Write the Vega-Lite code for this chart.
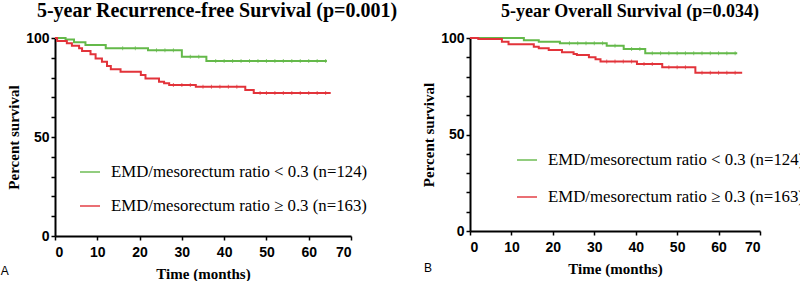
{
  "$schema": "https://vega.github.io/schema/vega-lite/v6.json",
  "usermeta": {"embedOptions": {"actions": false}},
  "padding": {"left": 0, "top": 1, "right": 0, "bottom": 0},
  "background": "white",
  "spacing": 23,
  "datasets": {
    "rfs": [
      {"g": "lt", "t": 0, "s": 100}, {"g": "lt", "t": 2.5, "s": 99.2}, {"g": "lt", "t": 4.5, "s": 97.8}, {"g": "lt", "t": 7.2, "s": 96.5},
      {"g": "lt", "t": 12, "s": 94.8}, {"g": "lt", "t": 22, "s": 93.8}, {"g": "lt", "t": 30, "s": 90.5}, {"g": "lt", "t": 35.8, "s": 88.4},
      {"g": "lt", "t": 64.3, "s": 88.4},
      {"g": "ge", "t": 0, "s": 100}, {"g": "ge", "t": 0.5, "s": 98.5}, {"g": "ge", "t": 2.8, "s": 97.3}, {"g": "ge", "t": 4, "s": 96.1},
      {"g": "ge", "t": 5.7, "s": 94.8}, {"g": "ge", "t": 6.4, "s": 93.4}, {"g": "ge", "t": 8.4, "s": 91.8}, {"g": "ge", "t": 9.6, "s": 89.7},
      {"g": "ge", "t": 11.1, "s": 88}, {"g": "ge", "t": 12.3, "s": 85.9}, {"g": "ge", "t": 13.2, "s": 84.2}, {"g": "ge", "t": 15.5, "s": 83},
      {"g": "ge", "t": 20.3, "s": 81.3}, {"g": "ge", "t": 21.4, "s": 79.6}, {"g": "ge", "t": 24.6, "s": 77.9}, {"g": "ge", "t": 25.8, "s": 77.1},
      {"g": "ge", "t": 27, "s": 76.3}, {"g": "ge", "t": 33.3, "s": 75.4}, {"g": "ge", "t": 45, "s": 73.7}, {"g": "ge", "t": 47, "s": 72.2},
      {"g": "ge", "t": 65.2, "s": 72.2}
    ],
    "rfs_cens": [
      {"g": "lt", "t": 16, "s": 94.8}, {"g": "lt", "t": 19, "s": 94.8}, {"g": "lt", "t": 24, "s": 93.8}, {"g": "lt", "t": 26, "s": 93.8},
      {"g": "lt", "t": 28, "s": 93.8}, {"g": "lt", "t": 32, "s": 90.5}, {"g": "lt", "t": 34, "s": 90.5}, {"g": "lt", "t": 38, "s": 88.4},
      {"g": "lt", "t": 40, "s": 88.4}, {"g": "lt", "t": 42, "s": 88.4}, {"g": "lt", "t": 44, "s": 88.4}, {"g": "lt", "t": 46, "s": 88.4},
      {"g": "lt", "t": 48, "s": 88.4}, {"g": "lt", "t": 50, "s": 88.4}, {"g": "lt", "t": 52, "s": 88.4}, {"g": "lt", "t": 54, "s": 88.4},
      {"g": "lt", "t": 56, "s": 88.4}, {"g": "lt", "t": 58, "s": 88.4}, {"g": "lt", "t": 60, "s": 88.4}, {"g": "lt", "t": 62, "s": 88.4},
      {"g": "lt", "t": 64, "s": 88.4},
      {"g": "ge", "t": 28, "s": 76.3}, {"g": "ge", "t": 30, "s": 76.3}, {"g": "ge", "t": 32, "s": 76.3}, {"g": "ge", "t": 35, "s": 75.4},
      {"g": "ge", "t": 37, "s": 75.4}, {"g": "ge", "t": 39, "s": 75.4}, {"g": "ge", "t": 41, "s": 75.4}, {"g": "ge", "t": 43, "s": 75.4},
      {"g": "ge", "t": 48.5, "s": 72.2}, {"g": "ge", "t": 50, "s": 72.2}, {"g": "ge", "t": 52, "s": 72.2}, {"g": "ge", "t": 54, "s": 72.2},
      {"g": "ge", "t": 56, "s": 72.2}, {"g": "ge", "t": 58, "s": 72.2}, {"g": "ge", "t": 60, "s": 72.2}, {"g": "ge", "t": 62, "s": 72.2},
      {"g": "ge", "t": 64, "s": 72.2}
    ],
    "os": [
      {"g": "lt", "t": 0, "s": 100}, {"g": "lt", "t": 13, "s": 98.8}, {"g": "lt", "t": 16.6, "s": 98.1}, {"g": "lt", "t": 21.7, "s": 97.3},
      {"g": "lt", "t": 33, "s": 96}, {"g": "lt", "t": 37.1, "s": 94.3}, {"g": "lt", "t": 42.3, "s": 92.1}, {"g": "lt", "t": 64.5, "s": 92.1},
      {"g": "ge", "t": 0, "s": 100}, {"g": "ge", "t": 2, "s": 99.5}, {"g": "ge", "t": 7.7, "s": 98.1}, {"g": "ge", "t": 9.3, "s": 96.7},
      {"g": "ge", "t": 15.4, "s": 95.5}, {"g": "ge", "t": 16.6, "s": 94.7}, {"g": "ge", "t": 19, "s": 93.8}, {"g": "ge", "t": 22.2, "s": 92.6},
      {"g": "ge", "t": 25, "s": 91.7}, {"g": "ge", "t": 25.8, "s": 91.2}, {"g": "ge", "t": 28.7, "s": 90}, {"g": "ge", "t": 30.3, "s": 89},
      {"g": "ge", "t": 31.5, "s": 87.8}, {"g": "ge", "t": 40.3, "s": 86.5}, {"g": "ge", "t": 46.4, "s": 84.8}, {"g": "ge", "t": 54.4, "s": 82},
      {"g": "ge", "t": 65.7, "s": 82}
    ],
    "os_cens": [
      {"g": "lt", "t": 24, "s": 97.3}, {"g": "lt", "t": 26, "s": 97.3}, {"g": "lt", "t": 28, "s": 97.3}, {"g": "lt", "t": 30, "s": 97.3},
      {"g": "lt", "t": 32, "s": 97.3}, {"g": "lt", "t": 35, "s": 96}, {"g": "lt", "t": 39, "s": 94.3}, {"g": "lt", "t": 41, "s": 94.3},
      {"g": "lt", "t": 44, "s": 92.1}, {"g": "lt", "t": 46, "s": 92.1}, {"g": "lt", "t": 48, "s": 92.1}, {"g": "lt", "t": 50, "s": 92.1},
      {"g": "lt", "t": 52, "s": 92.1}, {"g": "lt", "t": 54, "s": 92.1}, {"g": "lt", "t": 56, "s": 92.1}, {"g": "lt", "t": 58, "s": 92.1},
      {"g": "lt", "t": 60, "s": 92.1}, {"g": "lt", "t": 62, "s": 92.1}, {"g": "lt", "t": 64, "s": 92.1},
      {"g": "ge", "t": 33, "s": 87.8}, {"g": "ge", "t": 35, "s": 87.8}, {"g": "ge", "t": 37, "s": 87.8}, {"g": "ge", "t": 39, "s": 87.8},
      {"g": "ge", "t": 42, "s": 86.5}, {"g": "ge", "t": 44, "s": 86.5}, {"g": "ge", "t": 48, "s": 84.8}, {"g": "ge", "t": 50, "s": 84.8},
      {"g": "ge", "t": 52, "s": 84.8}, {"g": "ge", "t": 56, "s": 82}, {"g": "ge", "t": 58, "s": 82}, {"g": "ge", "t": 60, "s": 82},
      {"g": "ge", "t": 62, "s": 82}, {"g": "ge", "t": 64, "s": 82}
    ]
  },
  "resolve": {"legend": {"color": "independent"}, "scale": {"x": "independent", "y": "independent"}},
  "hconcat": [
    {
      "width": 296,
      "height": 198,
      "title": {"text": "5-year Recurrence-free Survival (p=0.001)", "dx": 14, "fontSize": 20},
      "layer": [
        {
          "data": {"name": "rfs"},
          "mark": {"type": "line", "interpolate": "step-after", "strokeWidth": 2},
          "encoding": {
            "x": {"field": "t", "type": "quantitative", "scale": {"domain": [0, 70], "nice": false},
              "axis": {"title": "Time (months)", "values": [0, 10, 20, 30, 40, 50, 60, 70], "labelOverlap": false, "labelPadding": 5, "titlePadding": 7}},
            "y": {"field": "s", "type": "quantitative", "scale": {"domain": [0, 100], "nice": false},
              "axis": {"title": "Percent survival", "values": [0, 10, 20, 30, 40, 50, 60, 70, 80, 90, 100], "labelOverlap": false,
                "labelExpr": "datum.value == 0 || datum.value == 50 || datum.value == 100 ? datum.label : ''"}},
            "color": {"field": "g", "type": "nominal",
              "scale": {"domain": ["lt", "ge"], "range": ["#64b94a", "#e2333a"]},
              "legend": {"orient": "none", "legendX": 24, "legendY": 123, "rowPadding": 14,
                "labelExpr": "datum.value == 'lt' ? 'EMD/mesorectum ratio < 0.3 (n=124)' : 'EMD/mesorectum ratio ≥ 0.3 (n=163)'"}}
          }
        },
        {
          "data": {"name": "rfs_cens"},
          "mark": {"type": "tick", "orient": "vertical", "size": 4, "thickness": 1},
          "encoding": {
            "x": {"field": "t", "type": "quantitative", "scale": {"domain": [0, 70], "nice": false},
              "axis": {"title": "Time (months)", "values": [0, 10, 20, 30, 40, 50, 60, 70], "labelOverlap": false, "labelPadding": 5, "titlePadding": 7}},
            "y": {"field": "s", "type": "quantitative", "scale": {"domain": [0, 100], "nice": false},
              "axis": {"title": "Percent survival", "values": [0, 10, 20, 30, 40, 50, 60, 70, 80, 90, 100], "labelOverlap": false,
                "labelExpr": "datum.value == 0 || datum.value == 50 || datum.value == 100 ? datum.label : ''"}},
            "color": {"field": "g", "type": "nominal"}
          }
        },
        {
          "data": {"values": [{"lab": "A"}]},
          "mark": {"type": "text", "font": "Liberation Sans", "fontSize": 12, "align": "left", "baseline": "middle", "color": "black"},
          "encoding": {
            "x": {"datum": -12.8, "type": "quantitative", "scale": {"domain": [0, 70], "nice": false},
              "axis": {"title": "Time (months)", "values": [0, 10, 20, 30, 40, 50, 60, 70], "labelOverlap": false, "labelPadding": 5, "titlePadding": 7}},
            "y": {"datum": -17.7, "type": "quantitative", "scale": {"domain": [0, 100], "nice": false},
              "axis": {"title": "Percent survival", "values": [0, 10, 20, 30, 40, 50, 60, 70, 80, 90, 100], "labelOverlap": false,
                "labelExpr": "datum.value == 0 || datum.value == 50 || datum.value == 100 ? datum.label : ''"}},
            "text": {"field": "lab"}
          }
        }
      ]
    },
    {
      "width": 290,
      "height": 193,
      "title": {"text": "5-year Overall Survival (p=0.034)", "dx": 15, "fontSize": 18},
      "layer": [
        {
          "data": {"name": "os"},
          "mark": {"type": "line", "interpolate": "step-after", "strokeWidth": 2},
          "encoding": {
            "x": {"field": "t", "type": "quantitative", "scale": {"domain": [0, 70], "nice": false},
              "axis": {"title": "Time (months)", "values": [0, 10, 20, 30, 40, 50, 60, 70], "labelOverlap": false, "labelPadding": 5, "titlePadding": 7}},
            "y": {"field": "s", "type": "quantitative", "scale": {"domain": [0, 100], "nice": false},
              "axis": {"title": "Percent survival", "values": [0, 10, 20, 30, 40, 50, 60, 70, 80, 90, 100], "labelOverlap": false,
                "labelExpr": "datum.value == 0 || datum.value == 50 || datum.value == 100 ? datum.label : ''"}},
            "color": {"field": "g", "type": "nominal",
              "scale": {"domain": ["lt", "ge"], "range": ["#64b94a", "#e2333a"]},
              "legend": {"orient": "none", "legendX": 46, "legendY": 111, "rowPadding": 17,
                "labelExpr": "datum.value == 'lt' ? 'EMD/mesorectum ratio < 0.3 (n=124)' : 'EMD/mesorectum ratio ≥ 0.3 (n=163)'"}}
          }
        },
        {
          "data": {"name": "os_cens"},
          "mark": {"type": "tick", "orient": "vertical", "size": 4, "thickness": 1},
          "encoding": {
            "x": {"field": "t", "type": "quantitative", "scale": {"domain": [0, 70], "nice": false},
              "axis": {"title": "Time (months)", "values": [0, 10, 20, 30, 40, 50, 60, 70], "labelOverlap": false, "labelPadding": 5, "titlePadding": 7}},
            "y": {"field": "s", "type": "quantitative", "scale": {"domain": [0, 100], "nice": false},
              "axis": {"title": "Percent survival", "values": [0, 10, 20, 30, 40, 50, 60, 70, 80, 90, 100], "labelOverlap": false,
                "labelExpr": "datum.value == 0 || datum.value == 50 || datum.value == 100 ? datum.label : ''"}},
            "color": {"field": "g", "type": "nominal"}
          }
        },
        {
          "data": {"values": [{"lab": "B"}]},
          "mark": {"type": "text", "font": "Liberation Sans", "fontSize": 12, "align": "left", "baseline": "middle", "color": "black"},
          "encoding": {
            "x": {"datum": -11.1, "type": "quantitative", "scale": {"domain": [0, 70], "nice": false},
              "axis": {"title": "Time (months)", "values": [0, 10, 20, 30, 40, 50, 60, 70], "labelOverlap": false, "labelPadding": 5, "titlePadding": 7}},
            "y": {"datum": -19.2, "type": "quantitative", "scale": {"domain": [0, 100], "nice": false},
              "axis": {"title": "Percent survival", "values": [0, 10, 20, 30, 40, 50, 60, 70, 80, 90, 100], "labelOverlap": false,
                "labelExpr": "datum.value == 0 || datum.value == 50 || datum.value == 100 ? datum.label : ''"}},
            "text": {"field": "lab"}
          }
        }
      ]
    }
  ],
  "config": {
    "view": {"stroke": null},
    "title": {"font": "Liberation Serif", "fontSize": 19, "fontWeight": "bold", "color": "black", "anchor": "middle", "offset": 10},
    "axis": {
      "grid": false,
      "domainColor": "black", "domainWidth": 2,
      "tickColor": "black", "tickWidth": 1.5, "tickSize": 4,
      "labelFont": "Liberation Sans", "labelFontSize": 14, "labelFontWeight": "bold", "labelColor": "black",
      "titleFont": "Liberation Serif", "titleFontSize": 15, "titleFontWeight": "bold", "titleColor": "black"
    },
    "legend": {
      "title": null, "symbolType": "stroke", "symbolSize": 400, "symbolStrokeWidth": 2,
      "labelFont": "Liberation Serif", "labelFontSize": 16.8, "labelColor": "black", "labelLimit": 400,
      "padding": 0, "labelOffset": 10
    }
  }
}
